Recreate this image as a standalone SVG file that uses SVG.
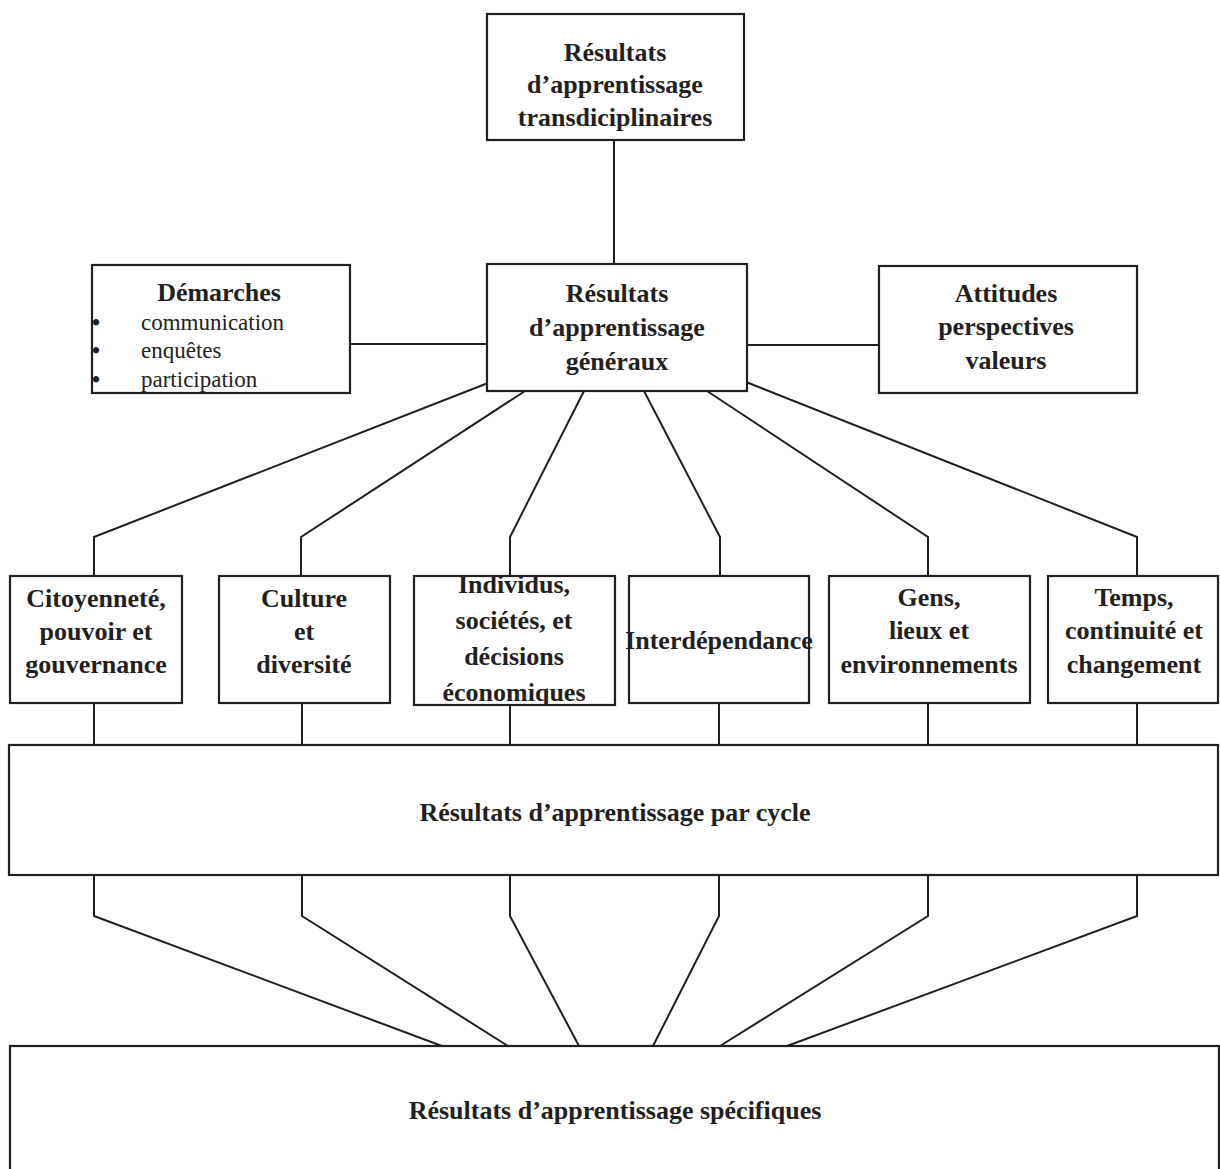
<svg xmlns="http://www.w3.org/2000/svg" width="1220" height="1169" viewBox="0 0 1220 1169">
<style>
.box{fill:#fff;stroke:#231f20;stroke-width:2.2}
.t{font-family:"Liberation Serif","Times New Roman",serif;font-weight:bold;font-size:26px;fill:#231f20;text-anchor:middle}
.r{font-family:"Liberation Serif","Times New Roman",serif;font-size:23px;fill:#231f20}
.b{font-family:"Liberation Serif","Times New Roman",serif;font-weight:bold;font-size:23px;fill:#231f20}
.c{fill:none;stroke:#231f20;stroke-width:2}
</style>
<rect width="1220" height="1169" fill="#fff"/>
<g id="connectors">
<line class="c" x1="614" y1="140" x2="614" y2="264"/>
<line class="c" x1="350" y1="344" x2="487" y2="344"/>
<line class="c" x1="747" y1="345" x2="879" y2="345"/>
<polyline class="c" points="488,383 94,537 94,576"/>
<polyline class="c" points="525,391 301,537 301,576"/>
<polyline class="c" points="584,391 510,537 510,576"/>
<polyline class="c" points="644,391 720,537 720,576"/>
<polyline class="c" points="707,391 928,537 928,576"/>
<polyline class="c" points="746,382 1137,537 1137,576"/>
<line class="c" x1="94" y1="703" x2="94" y2="745"/>
<line class="c" x1="302" y1="703" x2="302" y2="745"/>
<line class="c" x1="510" y1="705" x2="510" y2="745"/>
<line class="c" x1="719" y1="703" x2="719" y2="745"/>
<line class="c" x1="928" y1="703" x2="928" y2="745"/>
<line class="c" x1="1137" y1="703" x2="1137" y2="745"/>
<polyline class="c" points="94,875 94,916 442,1046"/>
<polyline class="c" points="302,875 302,916 508,1046"/>
<polyline class="c" points="510,875 510,916 579,1046"/>
<polyline class="c" points="719,875 719,916 653,1046"/>
<polyline class="c" points="928,875 928,916 720,1046"/>
<polyline class="c" points="1137,875 1137,916 787,1046"/>
</g>
<g id="node-transdisciplinaires">
<rect class="box" x="487" y="14" width="257" height="126"/>
<text class="t" x="615" y="61">Résultats</text>
<text class="t" x="615" y="93">d’apprentissage</text>
<text class="t" x="615" y="126">transdiciplinaires</text>
</g>
<g id="node-demarches">
<rect class="box" x="92" y="265" width="258" height="128"/>
<text class="t" x="219" y="301">Démarches</text>
<text class="b" x="92" y="330">•</text>
<text class="r" x="141" y="330">communication</text>
<text class="b" x="92" y="358">•</text>
<text class="r" x="141" y="358">enquêtes</text>
<text class="b" x="92" y="387">•</text>
<text class="r" x="141" y="387">participation</text>
</g>
<g id="node-generaux">
<rect class="box" x="487" y="264" width="260" height="127"/>
<text class="t" x="617" y="302">Résultats</text>
<text class="t" x="617" y="336">d’apprentissage</text>
<text class="t" x="617" y="370">généraux</text>
</g>
<g id="node-attitudes">
<rect class="box" x="879" y="266" width="258" height="127"/>
<text class="t" x="1006" y="302">Attitudes</text>
<text class="t" x="1006" y="335">perspectives</text>
<text class="t" x="1006" y="369">valeurs</text>
</g>
<g id="node-citoyennete">
<rect class="box" x="10" y="576" width="172" height="127"/>
<text class="t" x="96" y="607">Citoyenneté,</text>
<text class="t" x="96" y="640">pouvoir et</text>
<text class="t" x="96" y="673">gouvernance</text>
</g>
<g id="node-culture">
<rect class="box" x="219" y="576" width="171" height="127"/>
<text class="t" x="304" y="607">Culture</text>
<text class="t" x="304" y="640">et</text>
<text class="t" x="304" y="673">diversité</text>
</g>
<g id="node-individus">
<rect class="box" x="414" y="576" width="201" height="129"/>
<text class="t" x="514" y="593">Individus,</text>
<text class="t" x="514" y="629">sociétés, et</text>
<text class="t" x="514" y="665">décisions</text>
<text class="t" x="514" y="701">économiques</text>
</g>
<g id="node-interdependance">
<rect class="box" x="629" y="576" width="180" height="127"/>
<text class="t" x="719" y="649">Interdépendance</text>
</g>
<g id="node-gens">
<rect class="box" x="829" y="576" width="201" height="127"/>
<text class="t" x="929" y="606">Gens,</text>
<text class="t" x="929" y="639">lieux et</text>
<text class="t" x="929" y="673">environnements</text>
</g>
<g id="node-temps">
<rect class="box" x="1048" y="576" width="170" height="127"/>
<text class="t" x="1134" y="606">Temps,</text>
<text class="t" x="1134" y="639">continuité et</text>
<text class="t" x="1134" y="673">changement</text>
</g>
<g id="node-cycle">
<rect class="box" x="9" y="745" width="1209" height="130"/>
<text class="t" x="615" y="821">Résultats d’apprentissage par cycle</text>
</g>
<g id="node-specifiques">
<rect class="box" x="10" y="1046" width="1209" height="140"/>
<text class="t" x="615" y="1119">Résultats d’apprentissage spécifiques</text>
</g>
</svg>
